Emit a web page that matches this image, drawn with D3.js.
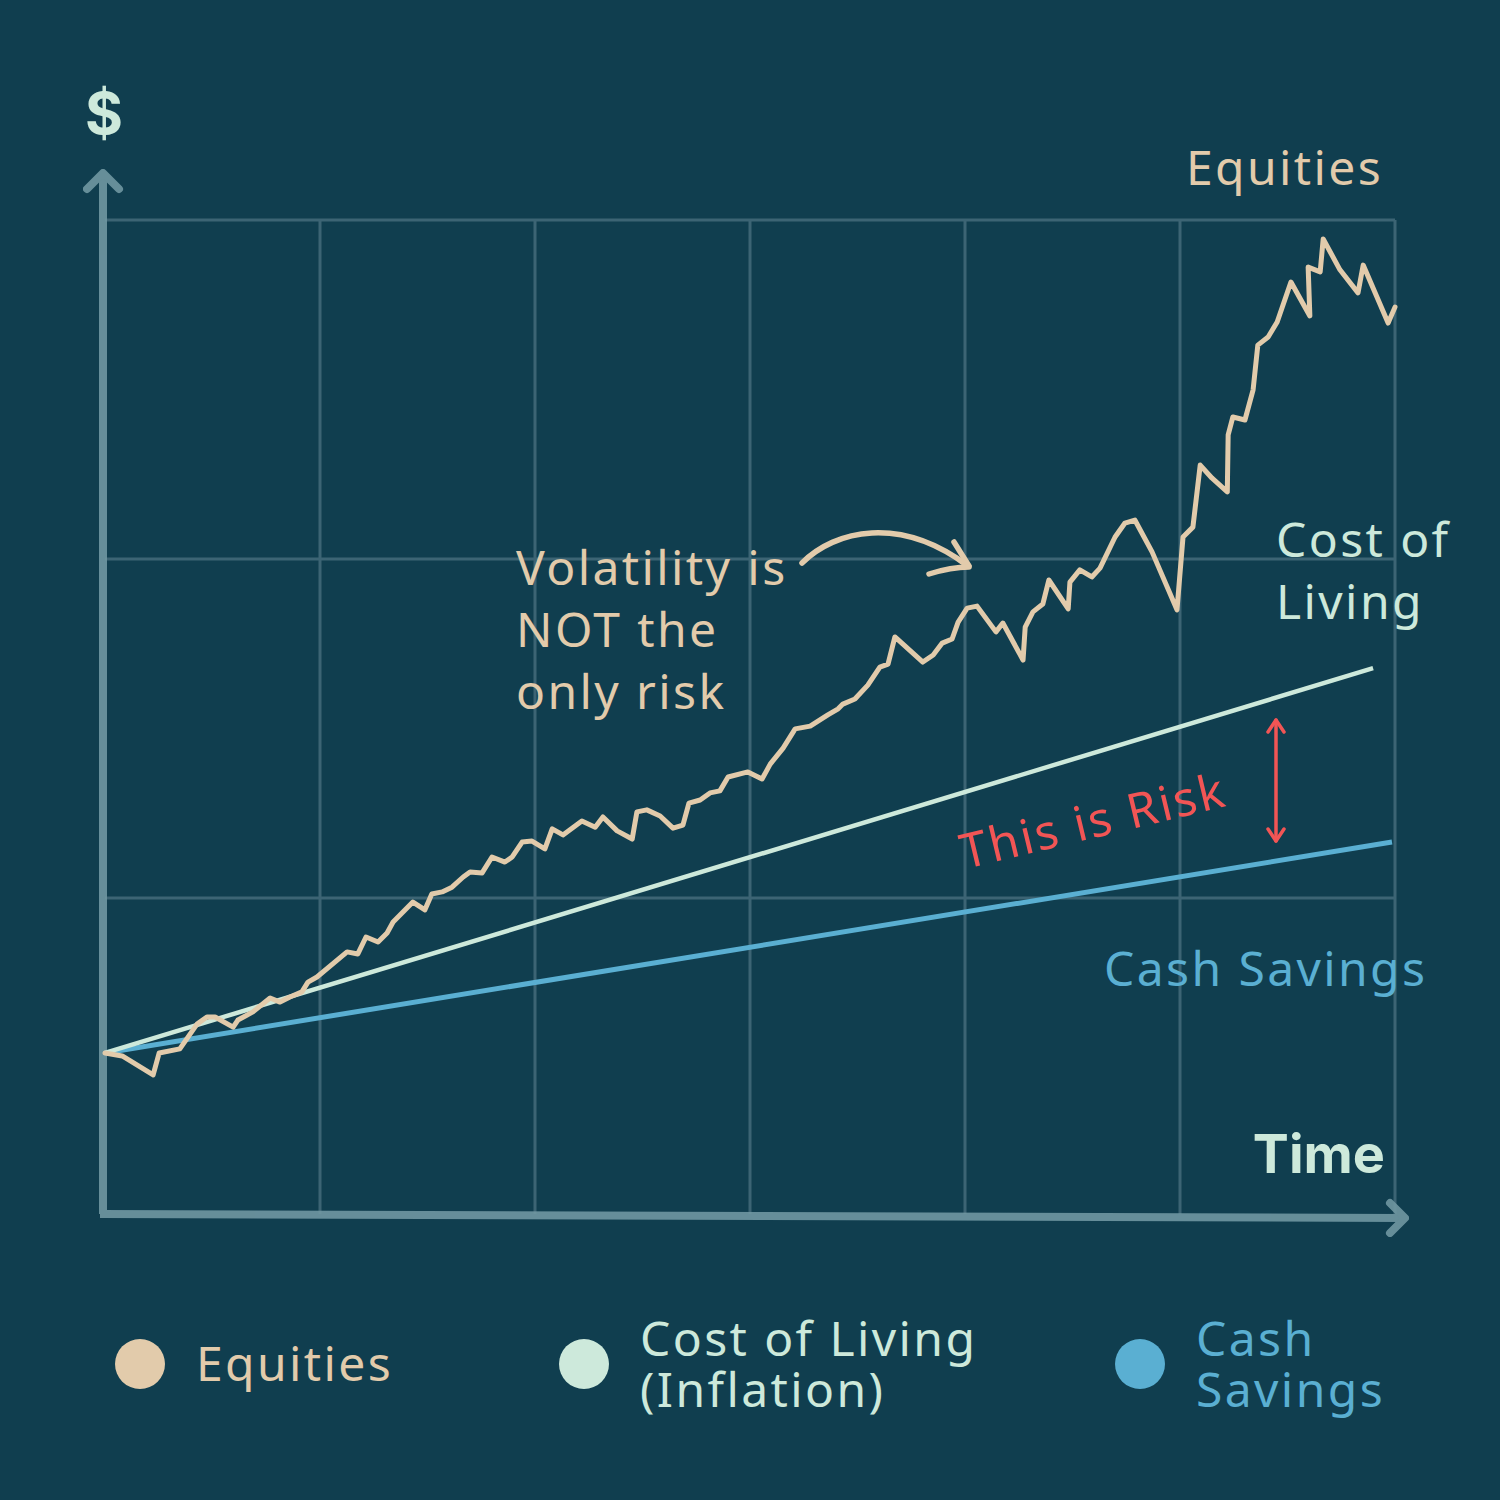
<!DOCTYPE html>
<html>
<head>
<meta charset="utf-8">
<script src="https://cdn.jsdelivr.net/npm/d3@7/dist/d3.min.js"></script>
<style>
  html, body { margin: 0; padding: 0; background: #103e4f; }
  svg { display: block; }
</style>
</head>
<body>
<script>
// ---------- DATA ----------
// time in years (0..30), value in arbitrary dollar index
const equitiesT = [0,0.40,1.12,1.26,1.74,2.14,2.37,2.56,2.98,3.09,3.44,3.84,4.07,4.30,4.58,4.72,4.93,5.63,5.88,6.07,6.35,6.56,6.70,7.16,7.44,7.60,7.84,8.07,8.33,8.49,8.77,9.00,9.30,9.47,9.70,9.93,10.23,10.40,10.65,11.09,11.40,11.58,11.91,12.26,12.37,12.60,12.91,13.21,13.44,13.58,13.84,14.07,14.30,14.49,14.95,15.28,15.47,15.77,16.05,16.40,16.81,17.05,17.16,17.44,17.74,18.02,18.21,18.37,19.02,19.26,19.47,19.70,19.84,20.05,20.28,20.72,20.88,21.35,21.40,21.58,21.81,21.95,22.40,22.44,22.67,22.95,23.14,23.49,23.72,23.95,24.35,24.93,25.07,25.30,25.47,25.74,26.10,26.12,26.23,26.51,26.70,26.81,27.05,27.26,27.58,28.02,27.98,28.26,28.33,28.72,29.14,29.26,29.84,30.00];
const equitiesV = [54.3,53.4,47.8,54.3,55.5,62.8,64.9,64.9,61.9,64.0,66.4,70.5,69.3,70.8,72.3,75.2,76.7,84.1,83.5,88.5,87.0,89.7,92.9,98.8,96.5,101.2,101.8,103.2,106.2,107.7,107.4,112.1,110.6,112.1,116.5,116.8,114.5,120.4,118.6,122.7,120.9,123.9,119.8,117.4,125.4,126.0,124.2,120.6,121.5,128.0,128.9,131.0,131.6,135.7,137.2,135.1,139.5,144.2,149.9,150.7,154.0,155.8,157.2,158.7,162.8,168.1,169.0,177.0,169.6,171.7,175.2,176.4,181.4,185.5,186.1,178.5,181.1,170.2,179.9,184.4,186.7,193.8,185.3,193.2,196.8,194.7,197.3,206.5,210.6,211.5,202.1,185.0,206.5,209.4,227.7,223.9,219.8,236.6,241.9,241.0,249.9,263.1,265.5,269.9,281.7,271.7,286.1,284.7,294.4,285.3,278.5,286.7,269.6,274.3];
const costT = [0, 29.49];
const costV = [54.3, 167.8];
const cashT = [0, 29.93];
const cashV = [54.3, 116.5];
const xGridTicks = [5, 10, 15, 20, 25, 30];
const yGridTicks = [100, 200, 300];
const legendLabels = [["Equities"], ["Cost of Living", "(Inflation)"], ["Cash", "Savings"]];

// ---------- STYLE ----------
const W = 1500, H = 1500;
const C = {
  bg: "#103e4f",
  grid: "#3c6474",
  axis: "#7097a2",
  eq: "#e2cbab",
  col: "#cde9db",
  cash: "#5aafd2",
  risk: "#f25555"
};
const FONT = "'Noto Sans', 'Open Sans', sans-serif";
const FS = 48;
const LS = 2.4;

const svg = d3.select("body").append("svg").attr("width", W).attr("height", H);
svg.append("rect").attr("width", W).attr("height", H).attr("fill", C.bg);

const x = d3.scaleLinear().domain([0, 30]).range([105, 1395]);
const y = d3.scaleLinear().domain([0, 300]).range([1237, 220]);
const yBottom = 1214;

// grid
const g = svg.append("g");
g.selectAll(".vg").data(xGridTicks).join("line")
  .attr("x1", d => x(d)).attr("x2", d => x(d))
  .attr("y1", y(300)).attr("y2", yBottom)
  .attr("stroke", C.grid).attr("stroke-width", 3);
g.selectAll(".hg").data(yGridTicks).join("line")
  .attr("x1", x(0)).attr("x2", x(30))
  .attr("y1", d => y(d)).attr("y2", d => y(d))
  .attr("stroke", C.grid).attr("stroke-width", 3);

// axes
const ax = svg.append("g").attr("stroke", C.axis).attr("stroke-width", 8)
  .attr("fill", "none").attr("stroke-linecap", "round").attr("stroke-linejoin", "round").attr("opacity", 0.9);
ax.append("line").attr("x1", 103).attr("y1", yBottom).attr("x2", 103).attr("y2", 176).attr("stroke-linecap", "butt");
ax.append("path").attr("d", "M87,189 L103,173 L119,189");
ax.append("line").attr("x1", 100).attr("y1", yBottom).attr("x2", 1404).attr("y2", 1218).attr("stroke-linecap", "butt");
ax.append("path").attr("d", "M1390,1203 L1405,1218 L1390,1233");

// lines
const line = d3.line().x(d => x(d[0])).y(d => y(d[1]));
svg.append("path").datum(d3.zip(cashT, cashV)).attr("d", line)
  .attr("fill", "none").attr("stroke", C.cash).attr("stroke-width", 5);
svg.append("path").datum(d3.zip(costT, costV)).attr("d", line)
  .attr("fill", "none").attr("stroke", C.col).attr("stroke-width", 4.5);
svg.append("path").datum(d3.zip(equitiesT, equitiesV)).attr("d", line)
  .attr("fill", "none").attr("stroke", C.eq).attr("stroke-width", 5)
  .attr("stroke-linejoin", "round").attr("stroke-linecap", "round");

// texts
function txt(s, xx, yy, fill, size, weight, anchor) {
  return svg.append("text").attr("x", xx).attr("y", yy).text(s)
    .attr("fill", fill).attr("font-size", size).attr("font-family", FONT)
    .attr("font-weight", weight || 400).attr("text-anchor", anchor || "start");
}
function multi(lines, xx, yy, dy, fill, size) {
  const t = svg.append("text").attr("fill", fill).attr("font-size", size)
    .attr("font-family", FONT).attr("letter-spacing", LS);
  lines.forEach((s, j) => t.append("tspan").attr("x", xx).attr("y", yy + j * dy).text(s));
  return t;
}
txt("$", 104, 134, C.col, 58, 700, "middle").attr("font-family", "Inter, sans-serif");
txt("Time", 1385, 1173, C.col, 54, 700, "end").attr("font-family", "Inter, sans-serif");
txt("Equities", 1186, 185, C.eq, FS).attr("letter-spacing", LS);
multi(["Cost of", "Living"], 1276, 557, 62, C.col, FS);
txt("Cash Savings", 1104, 986, C.cash, FS).attr("letter-spacing", LS);
multi(["Volatility is", "NOT the", "only risk"], 516, 585, 62, C.eq, FS);
svg.append("text").attr("transform", "translate(965,869) rotate(-13.5)")
  .text("This is Risk").attr("fill", C.risk).attr("font-size", FS)
  .attr("font-family", FONT).attr("letter-spacing", LS);

// risk double arrow
const ra = svg.append("g").attr("stroke", C.risk).attr("stroke-width", 3.5).attr("fill", "none")
  .attr("stroke-linecap", "round").attr("stroke-linejoin", "round");
ra.append("line").attr("x1", 1276).attr("x2", 1276).attr("y1", 720).attr("y2", 841);
ra.append("path").attr("d", "M1268,732 L1276,720 L1284,732");
ra.append("path").attr("d", "M1268,829 L1276,841 L1284,829");

// curved arrow
const ca = svg.append("g").attr("stroke", C.eq).attr("fill", "none")
  .attr("stroke-linecap", "round").attr("stroke-linejoin", "round");
ca.append("path").attr("d", "M802,563 C835,530 900,515 968,566").attr("stroke-width", 5.5);
ca.append("path").attr("d", "M954,542 L969,566").attr("stroke-width", 5.5);
ca.append("path").attr("d", "M929,574 C945,569 958,567 969,567").attr("stroke-width", 5.5);

// legend
const legX = [140, 584, 1140];
const legColors = [C.eq, C.col, C.cash];
const leg = svg.append("g");
leg.selectAll("circle").data(legX).join("circle")
  .attr("cx", d => d).attr("cy", 1364).attr("r", 25).attr("fill", (d, i) => legColors[i]);
legendLabels.forEach((lines, i) => {
  const tx = legX[i] + 56;
  const baseY = lines.length === 1 ? 1381 : 1356;
  multi(lines, tx, baseY, 51, legColors[i], FS);
});
</script>
</body>
</html>
